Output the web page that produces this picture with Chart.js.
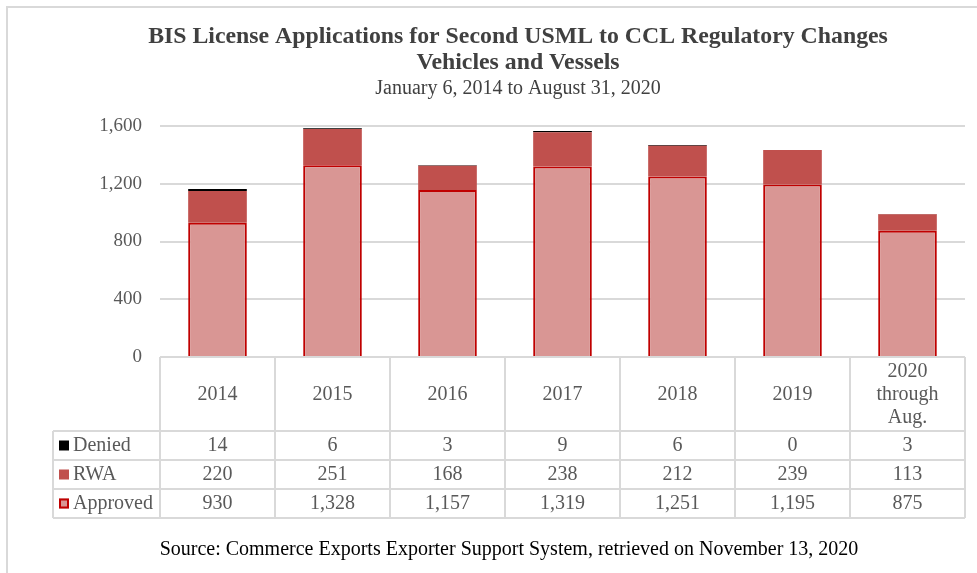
<!DOCTYPE html>
<html>
<head>
<meta charset="utf-8">
<script src="https://cdn.jsdelivr.net/npm/chart.js@4.4.0/dist/chart.umd.min.js"></script>
<style>
  html, body { margin: 0; padding: 0; background: #fff; }
  #wrap { width: 977px; height: 573px; }
</style>
</head>
<body>
<div id="wrap"><canvas id="chartCanvas" width="977" height="573"></canvas></div>
<script>
const categories = ['2014', '2015', '2016', '2017', '2018', '2019', ['2020', 'through', 'Aug.']];
const denied = [14, 6, 3, 9, 6, 0, 3];
const rwa = [220, 251, 168, 238, 212, 239, 113];
const approved = [930, 1328, 1157, 1319, 1251, 1195, 875];
const yTicks = [0, 400, 800, 1200, 1600];

const titleLines = ['BIS License Applications for Second USML to CCL Regulatory Changes', 'Vehicles and Vessels'];
const subtitle = 'January 6, 2014 to August 31, 2020';
const source = 'Source: Commerce Exports Exporter Support System, retrieved on November 13, 2020';

const SERIF = '"Liberation Serif", "Times New Roman", serif';
const GRID = '#D9D9D9';
const TEXT = '#595959';

// rows of the data table, top to bottom
const tableRows = [
    { name: 'Denied', values: denied, fill: '#000000', stroke: null },
    { name: 'RWA', values: rwa, fill: '#C0504D', stroke: null },
    { name: 'Approved', values: approved, fill: '#D99694', stroke: '#C00000' }
];

const fmt = v => v.toLocaleString('en-US');

const extrasPlugin = {
    id: 'extras',
    afterDraw(chart) {
        const ctx = chart.ctx;
        const area = chart.chartArea;
        const xs = chart.scales.x;
        const colW = (area.right - area.left) / categories.length;
        const headTop = area.bottom;
        const headBottom = headTop + 74;
        const rowH = 29;
        const legendLeft = 53;
        const tableBottom = headBottom + rowH * tableRows.length;

        ctx.save();
        // outer frame
        ctx.strokeStyle = GRID;
        ctx.lineWidth = 2;
        ctx.beginPath();
        ctx.moveTo(7, chart.height + 5);
        ctx.lineTo(7, 7);
        ctx.lineTo(chart.width + 5, 7);
        ctx.stroke();

        // titles
        ctx.fillStyle = '#404040';
        ctx.textAlign = 'center';
        ctx.textBaseline = 'middle';
        ctx.font = 'bold 23.8px ' + SERIF;
        ctx.fillText(titleLines[0], 518, 37);
        ctx.fillText(titleLines[1], 518, 63);
        ctx.font = '20px ' + SERIF;
        ctx.fillText(subtitle, 518, 89);

        // table grid
        ctx.strokeStyle = GRID;
        ctx.lineWidth = 2;
        ctx.beginPath();
        ctx.moveTo(area.left, headTop);
        ctx.lineTo(area.right, headTop);
        for (let r = 0; r <= tableRows.length; r++) {
            const y = headBottom + r * rowH;
            ctx.moveTo(legendLeft, y);
            ctx.lineTo(area.right, y);
        }
        ctx.moveTo(legendLeft, headBottom);
        ctx.lineTo(legendLeft, tableBottom);
        for (let i = 0; i <= categories.length; i++) {
            const x = area.left + i * colW;
            ctx.moveTo(x, headTop);
            ctx.lineTo(x, tableBottom);
        }
        ctx.stroke();

        // header labels
        ctx.fillStyle = TEXT;
        ctx.font = '20px ' + SERIF;
        ctx.textAlign = 'center';
        const headMid = (headTop + headBottom) / 2 + 1;
        categories.forEach((c, i) => {
            const x = xs.getPixelForValue(i);
            const lines = Array.isArray(c) ? c : [c];
            const lh = 23;
            lines.forEach((t, k) => {
                ctx.fillText(t, x, headMid + (k - (lines.length - 1) / 2) * lh);
            });
        });

        // rows
        tableRows.forEach((row, r) => {
            const yMid = headBottom + r * rowH + rowH / 2;
            // legend key
            ctx.fillStyle = row.fill;
            ctx.fillRect(59, yMid - 5, 10, 10);
            if (row.stroke) {
                ctx.strokeStyle = row.stroke;
                ctx.lineWidth = 2;
                ctx.strokeRect(60, yMid - 4, 8, 8);
            }
            ctx.fillStyle = TEXT;
            ctx.textAlign = 'left';
            ctx.fillText(row.name, 73, yMid);
            ctx.textAlign = 'center';
            row.values.forEach((v, i) => {
                ctx.fillText(fmt(v), xs.getPixelForValue(i), yMid);
            });
        });

        // source note
        ctx.fillStyle = '#000000';
        ctx.textAlign = 'center';
        ctx.font = '20px ' + SERIF;
        ctx.fillText(source, 509, 550);
        ctx.restore();
    }
};

const ctx = document.getElementById('chartCanvas').getContext('2d');
new Chart(ctx, {
    type: 'bar',
    data: {
        labels: categories,
        datasets: [
            {
                label: 'Approved',
                data: approved,
                backgroundColor: '#D99694',
                borderColor: '#C00000',
                borderWidth: 2
            },
            {
                label: 'RWA',
                data: rwa,
                backgroundColor: '#C0504D',
                borderWidth: 0
            },
            {
                label: 'Denied',
                data: denied,
                backgroundColor: '#000000',
                borderWidth: 0
            }
        ]
    },
    options: {
        responsive: false,
        animation: false,
        layout: { padding: { top: 126, right: 12, bottom: 216, left: 0 } },
        datasets: { bar: { categoryPercentage: 1, barPercentage: 0.51 } },
        plugins: {
            legend: { display: false },
            title: { display: false },
            tooltip: { enabled: false }
        },
        scales: {
            x: {
                type: 'category',
                stacked: true,
                display: false,
                offset: true
            },
            y: {
                stacked: true,
                min: yTicks[0],
                max: yTicks[yTicks.length - 1],
                afterFit(scale) { scale.width = 160; },
                afterBuildTicks(scale) { scale.ticks = yTicks.map(v => ({ value: v })); },
                border: { display: false },
                grid: { color: GRID, lineWidth: 2, drawTicks: false },
                ticks: {
                    padding: 18,
                    color: TEXT,
                    font: { family: SERIF, size: 19 },
                    callback: v => fmt(v)
                }
            }
        }
    },
    plugins: [extrasPlugin]
});
</script>
</body>
</html>
